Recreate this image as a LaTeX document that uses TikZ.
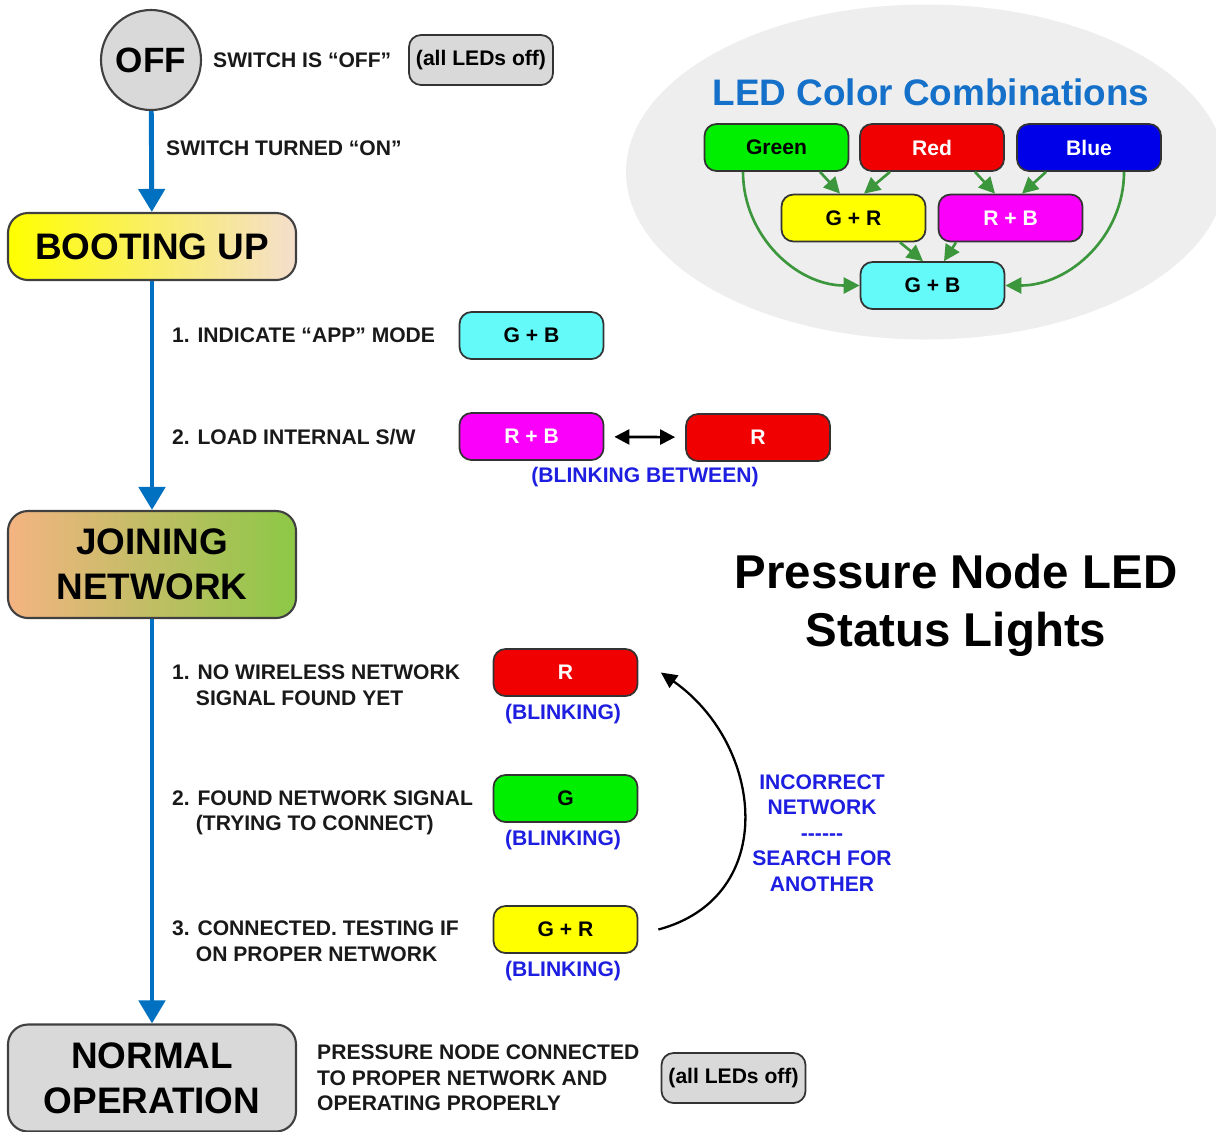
\documentclass[tikz,border=0pt]{standalone}
\usepackage{fontspec}
\setmainfont{Liberation Sans}
\usepackage{tikz}
\usetikzlibrary{arrows.meta,positioning,shapes.geometric,calc}
\definecolor{trunkblue}{RGB}{0,112,192}
\definecolor{offgray}{RGB}{217,217,217}
\definecolor{ellgray}{RGB}{238,238,238}
\definecolor{comboblue}{RGB}{20,112,200}
\definecolor{mixgreen}{RGB}{60,150,60}
\definecolor{blinkblue}{RGB}{30,30,225}
\definecolor{ledgreen}{RGB}{0,238,0}
\definecolor{ledred}{RGB}{240,0,0}
\definecolor{ledblue}{RGB}{0,0,232}
\definecolor{ledmagenta}{RGB}{250,0,250}
\definecolor{ledcyan}{RGB}{100,250,250}
\definecolor{ledyellow}{RGB}{255,255,0}
\definecolor{bootpeach}{RGB}{244,222,205}
\definecolor{joinorange}{RGB}{244,180,130}
\definecolor{joingreen}{RGB}{140,200,70}

\begin{document}
\begin{tikzpicture}[x=0.2mm,y=0.2mm,
  font=\bfseries\fontsize{12}{14.5}\selectfont,
  stage/.style={draw=black!75,line width=1.2pt,rounded corners=4mm,minimum width=5.76cm,
    align=center,font=\bfseries\fontsize{21}{25.6}\selectfont},
  led/.style={draw=black!80,line width=1pt,rounded corners=2.4mm,minimum width=2.88cm,minimum height=0.94cm},
  alloff/.style={led,fill=offgray,minimum height=1cm},
  note/.style={anchor=west,align=left,text=black!90},
  blink/.style={text=blinkblue},
  trunk/.style={trunkblue,line width=2.8pt,-{Triangle[width=5.2mm,length=4.6mm]}},
  mix/.style={mixgreen,line width=1.5pt,-{Triangle[width=3.2mm,length=3.2mm]}}]
\useasboundingbox (0,0) rectangle (1216,-1131);

% LED colour combinations
\node[ellipse,fill=ellgray,minimum width=12cm,minimum height=6.7cm] (combobg) at (926,-172) {};
\node[text=comboblue,font=\bfseries\fontsize{21}{25}\selectfont] (combotitle) at (931,-92) {LED Color Combinations};
\node[led,fill=ledgreen] (green) at (776.5,-147.5) {Green};
\node[led,fill=ledred,text=white] (red) at (932,-147.5) {Red};
\node[led,fill=ledblue,text=white] (blue) at (1089,-147.5) {Blue};
\node[led,fill=ledyellow] (gr) at (853.5,-218) {G + R};
\node[led,fill=ledmagenta,text=white] (rb) at (1010.5,-218) {R + B};
\node[led,fill=ledcyan] (gb) at (932.5,-285.5) {G + B};
\draw[mix] ([xshift=8.7mm]green.south) -- ([xshift=-2.7mm]gr.north);
\draw[mix] ([xshift=-8.4mm]red.south) -- ([xshift=2.1mm]gr.north);
\draw[mix] ([xshift=8.6mm]red.south) -- ([xshift=-3.1mm]rb.north);
\draw[mix] ([xshift=-8.6mm]blue.south) -- ([xshift=2.3mm]rb.north);
\draw[mix] ([xshift=9.3mm]gr.south) -- ([xshift=-1.9mm]gb.north);
\draw[mix] ([xshift=-10.9mm]rb.south) -- ([xshift=2.3mm]gb.north);
\draw[mix] ([xshift=-6.7mm]green.south) to[out=-90,in=180] (gb.west);
\draw[mix] ([xshift=7mm]blue.south) to[out=-90,in=0] (gb.east);

% status flow
\node[circle,draw=black!75,line width=1.2pt,fill=offgray,minimum size=2cm,
  font=\bfseries\fontsize{20}{24}\selectfont] (off) at (151,-60) {OFF};
\node[note] (swoff) at (207,-60) {SWITCH IS “OFF”};
\node[alloff] (offleds) at (481,-60) {(all LEDs off)};
\node[note] (swon) at (160,-148) {SWITCH TURNED “ON”};

\node[stage,shade,left color=ledyellow,right color=bootpeach,minimum height=1.34cm] (boot) at (152,-246.5) {BOOTING UP};
\node[note] (appmode) at (166,-335) {1. INDICATE “APP” MODE};
\node[led,fill=ledcyan] (appgb) at (531.5,-335.5) {G + B};
\node[note] (loadsw) at (166,-437) {2. LOAD INTERNAL S/W};
\node[led,fill=ledmagenta,text=white] (loadrb) at (531.5,-436.5) {R + B};
\node[led,fill=ledred,text=white] (loadr) at (758,-437.5) {R};
\node[blink] (between) at (645,-477) {(BLINKING BETWEEN)};
\draw[{Triangle[width=3mm,length=3mm]}-{Triangle[width=3mm,length=3mm]},line width=1.5pt,
  shorten <=2mm,shorten >=2mm] (loadrb) -- (loadr);

\node[stage,shade,left color=joinorange,right color=joingreen,minimum height=2.14cm] (join) at (152,-564.5) {JOINING\\NETWORK};
\node[note] (nosignal) at (166,-685) {1. NO WIRELESS NETWORK\\\phantom{1.}\hspace{3.5pt}SIGNAL FOUND YET};
\node[led,fill=ledred,text=white] (joinr) at (565.5,-672.5) {R};
\node[blink] (blinkr) at (563,-714) {(BLINKING)};
\node[note] (found) at (166,-813) {2. FOUND NETWORK SIGNAL\\\phantom{2.}\hspace{3.5pt}(TRYING TO CONNECT)};
\node[led,fill=ledgreen] (joing) at (565.5,-798.5) {G};
\node[blink] (blinkg) at (563,-840) {(BLINKING)};
\node[note] (testing) at (166,-941) {3. CONNECTED. TESTING IF\\\phantom{3.}\hspace{3.5pt}ON PROPER NETWORK};
\node[led,fill=ledyellow] (joingr) at (565.5,-929.5) {G + R};
\node[blink] (blinkgr) at (563,-971) {(BLINKING)};
\node[blink,align=center] (retry) at (822,-833) {INCORRECT\\NETWORK\\\hbox{-}\hbox{-}\hbox{-}\hbox{-}\hbox{-}\hbox{-}\\SEARCH FOR\\ANOTHER};
\draw[-{Triangle[width=3mm,length=3.2mm]},line width=1.3pt] ([xshift=4mm]joingr.east) to[out=15,in=-35,looseness=1.25] ([xshift=4.5mm]joinr.east);

\node[stage,fill=offgray,minimum height=2.14cm] (normal) at (152,-1078) {NORMAL\\OPERATION};
\node[note] (connected) at (311,-1078) {PRESSURE NODE CONNECTED\\TO PROPER NETWORK AND\\OPERATING PROPERLY};
\node[alloff] (normalleds) at (733.5,-1078) {(all LEDs off)};

\draw[trunk] (off) -- (boot);
\draw[trunk] (boot) -- (join);
\draw[trunk] (join) -- (normal);

\node[align=center,font=\bfseries\fontsize{27}{33}\selectfont] (title) at (956,-605) {Pressure Node LED\\Status Lights};
\end{tikzpicture}
\end{document}
